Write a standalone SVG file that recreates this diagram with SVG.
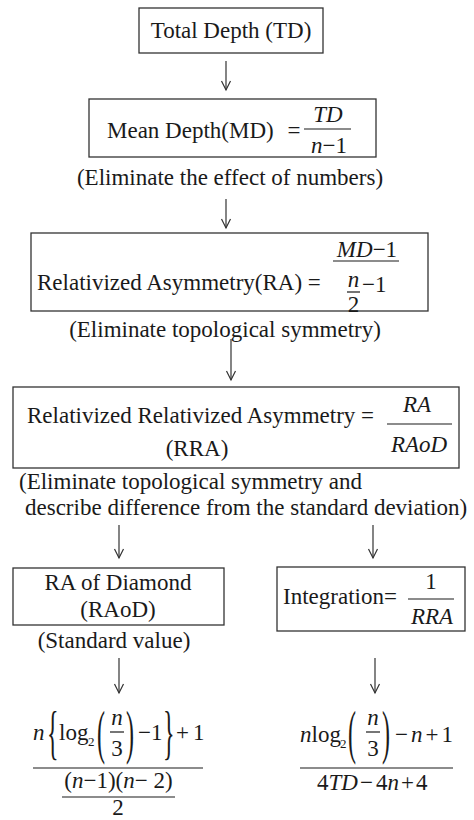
<svg xmlns="http://www.w3.org/2000/svg" width="474" height="820" viewBox="0 0 474 820">
<style>
text{font-family:"Liberation Serif","Times New Roman",serif;font-size:23px;fill:#1a1a1a}
.i{font-style:italic}
.m{text-anchor:middle}
.sub{font-size:13px}
.box{fill:#fff;stroke:#333;stroke-width:1.3}
.bar{stroke:#1a1a1a;stroke-width:1.2}
.con{stroke:#333;stroke-width:1.2;fill:none;marker-end:url(#arr)}
.big{font-size:60px}
</style>
<defs>
<marker id="arr" viewBox="-10 -6 12 12" refX="0" refY="0" markerWidth="12" markerHeight="12" markerUnits="userSpaceOnUse" orient="auto">
<path d="M-9,-4.5 L0,0 L-9,4.5" fill="none" stroke="#333" stroke-width="1.2"/>
</marker>
</defs>
<rect width="474" height="820" fill="#fff"/>

<g id="connectors">
<line class="con" x1="226" y1="61" x2="226" y2="90"/>
<line class="con" x1="226" y1="199" x2="226" y2="228"/>
<line class="con" x1="231" y1="339" x2="231" y2="380"/>
<line class="con" x1="119" y1="525" x2="119" y2="558"/>
<line class="con" x1="373" y1="525" x2="373" y2="558"/>
<line class="con" x1="119" y1="658" x2="119" y2="693"/>
<line class="con" x1="375" y1="658" x2="375" y2="693"/>
</g>

<g id="td">
<rect class="box" x="139" y="8" width="184" height="45"/>
<text class="m" x="231" y="38">Total Depth (TD)</text>
</g>

<g id="md">
<rect class="box" x="89" y="99" width="287" height="58"/>
<text x="107" y="138">Mean Depth(MD)</text>
<text class="m" x="294" y="138">=</text>
<text class="m i" x="328" y="122">TD</text>
<line class="bar" x1="304" y1="129" x2="351" y2="129"/>
<text class="m" x="329" y="153"><tspan class="i">n</tspan>−1</text>
</g>
<text id="note1" class="m" x="230" y="185">(Eliminate the effect of numbers)</text>

<g id="ra">
<rect class="box" x="31" y="233" width="397" height="78"/>
<text x="37" y="290">Relativized Asymmetry(RA) =</text>
<text class="m" x="367" y="257"><tspan class="i">MD</tspan>−1</text>
<line class="bar" x1="333" y1="261" x2="399" y2="261"/>
<text class="m i" x="353.5" y="287">n</text>
<line class="bar" x1="347" y1="292" x2="360" y2="292"/>
<text class="m" x="353.5" y="312">2</text>
<text x="362" y="292">−1</text>
</g>
<text id="note2" class="m" x="225" y="337">(Eliminate topological symmetry)</text>

<g id="rra">
<rect class="box" x="13" y="387" width="446" height="81"/>
<text x="27" y="423">Relativized Relativized Asymmetry =</text>
<text class="m" x="197" y="456">(RRA)</text>
<text class="m i" x="417" y="412">RA</text>
<line class="bar" x1="387" y1="424" x2="452" y2="424"/>
<text class="m i" x="419" y="452">RAoD</text>
</g>
<text id="note3" x="19" y="489">(Eliminate topological symmetry and</text>
<text id="note4" x="25" y="515">describe difference from the standard deviation)</text>

<g id="raod">
<rect class="box" x="13" y="568" width="211" height="57"/>
<text class="m" x="118" y="590">RA of Diamond</text>
<text class="m" x="118" y="617">(RAoD)</text>
</g>
<text id="note5" class="m" x="114" y="648">(Standard value)</text>

<g id="integration">
<rect class="box" x="277" y="567" width="188" height="64"/>
<text x="283" y="604">Integration=</text>
<text class="m" x="431" y="589">1</text>
<line class="bar" x1="408" y1="599" x2="454" y2="599"/>
<text class="m i" x="432" y="624">RRA</text>
</g>

<g id="formula-raod">
<text class="i" x="33" y="740">n</text>
<text class="big" transform="translate(47,752) scale(0.4,1)">{</text>
<text x="59" y="740">log</text>
<text class="sub" x="88" y="746">2</text>
<text class="big" transform="translate(97,752) scale(0.4,1)">(</text>
<text class="m i" x="117" y="725">n</text>
<line class="bar" x1="110" y1="732" x2="124" y2="732"/>
<text class="m" x="117" y="756">3</text>
<text class="big" transform="translate(126,752) scale(0.4,1)">)</text>
<text x="138" y="740">−1</text>
<text class="big" transform="translate(163,752) scale(0.4,1)">}</text>
<text x="176" y="740">+<tspan dx="4">1</tspan></text>
<line class="bar" x1="33" y1="768" x2="203" y2="768"/>
<text class="m" x="118.5" y="788">(<tspan class="i">n</tspan>−1)(<tspan class="i">n</tspan>− 2)</text>
<line class="bar" x1="62" y1="797" x2="175" y2="797"/>
<text class="m" x="118" y="815">2</text>
</g>

<g id="formula-integration">
<text x="300" y="742"><tspan class="i">n</tspan>log</text>
<text class="sub" x="340" y="748">2</text>
<text class="big" transform="translate(348,752) scale(0.4,1)">(</text>
<text class="m i" x="373" y="725">n</text>
<line class="bar" x1="366" y1="732" x2="380" y2="732"/>
<text class="m" x="373" y="756">3</text>
<text class="big" transform="translate(382,752) scale(0.4,1)">)</text>
<text x="395" y="742">−<tspan class="i" dx="3">n</tspan><tspan dx="3">+</tspan><tspan dx="3">1</tspan></text>
<line class="bar" x1="300" y1="768" x2="453" y2="768"/>
<text x="317" y="790">4<tspan class="i">TD</tspan><tspan dx="2">−</tspan><tspan dx="3">4</tspan><tspan class="i">n</tspan><tspan dx="2">+</tspan><tspan dx="2">4</tspan></text>
</g>
</svg>
